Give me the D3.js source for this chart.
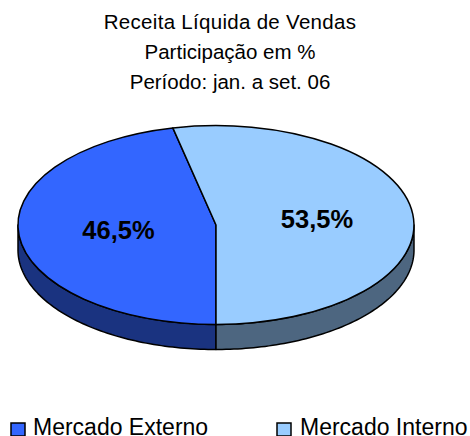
<!DOCTYPE html>
<html>
<head>
<meta charset="utf-8">
<script src="https://cdn.jsdelivr.net/npm/d3@7"></script>
<style>
  html, body { margin: 0; padding: 0; background: #fff; }
  svg { display: block; }
  text { font-family: "Liberation Sans", Arial, sans-serif; fill: #000; }
</style>
</head>
<body>
<script>
const titleLines = ["Receita Líquida de Vendas", "Participação em %", "Período: jan. a set. 06"];
const categories = ["Mercado Externo", "Mercado Interno"];
const values = [46.5, 53.5];
const valueLabels = ["46,5%", "53,5%"];
const topColors = ["#3366ff", "#99ccff"];
const sideColors = ["#1a3380", "#4d6680"];

const w = 470;
const h = 436;
const cx = 216;
const cy = 225;
const rx = 198;
const ry = 99.5;
const depth = 25;

const svg = d3.select("body").append("svg").attr("width", w).attr("height", h);

// Title
const titleY = [29, 59, 89];
const titleSpacing = [0.3, 0, 0];
svg.selectAll(".title")
  .data(titleLines)
  .enter()
  .append("text")
  .attr("class", "title")
  .attr("x", 230)
  .attr("y", (d, i) => titleY[i])
  .attr("text-anchor", "middle")
  .attr("font-size", 20.5)
  .attr("letter-spacing", (d, i) => titleSpacing[i])
  .text((d) => d);

// Pie starts at the bottom and goes clockwise
const pie = d3.pie().sort(null).startAngle(Math.PI).endAngle(3 * Math.PI);
const slices = pie(values);

const px = (a) => cx + rx * Math.sin(a);
const py = (a) => cy - ry * Math.cos(a);

// Side wall, only the front half of the ellipse is visible
const wallLine = d3.line();
function wallPath(d) {
  const frontStart = Math.PI / 2;
  const frontEnd = 3 * Math.PI / 2;
  const pieces = [];
  [0, 2 * Math.PI].forEach((shift) => {
    const a0 = Math.max(d.startAngle, frontStart + shift);
    const a1 = Math.min(d.endAngle, frontEnd + shift);
    if (a1 <= a0) return;
    const angles = d3.range(a0, a1, 0.02).concat([a1]);
    const top = angles.map((a) => [px(a), py(a)]);
    const bottom = angles.slice().reverse().map((a) => [px(a), py(a) + depth]);
    pieces.push(wallLine(top.concat(bottom)) + "Z");
  });
  return pieces.join("");
}

svg.selectAll(".wall")
  .data(slices)
  .enter()
  .append("path")
  .attr("class", "wall")
  .attr("d", wallPath)
  .attr("fill", (d, i) => sideColors[i])
  .attr("stroke", "#000")
  .attr("stroke-width", 1.5)
  .attr("stroke-linejoin", "round");

// Top face, unit arc squashed into an ellipse
const arc = d3.arc().innerRadius(0).outerRadius(1);

svg.selectAll(".slice")
  .data(slices)
  .enter()
  .append("path")
  .attr("class", "slice")
  .attr("d", arc)
  .attr("transform", `translate(${cx},${cy}) scale(${rx},${ry})`)
  .attr("vector-effect", "non-scaling-stroke")
  .attr("fill", (d, i) => topColors[i])
  .attr("stroke", "#000")
  .attr("stroke-width", 1.5)
  .attr("stroke-linejoin", "round");

// Value labels
const labelX = [118.5, 317];
const labelY = [239, 228];
svg.selectAll(".value")
  .data(valueLabels)
  .enter()
  .append("text")
  .attr("class", "value")
  .attr("x", (d, i) => labelX[i])
  .attr("y", (d, i) => labelY[i])
  .attr("text-anchor", "middle")
  .attr("font-size", 25.5)
  .attr("font-weight", "bold")
  .text((d) => d);

// Legend
const legendX = [11, 277];
const legend = svg.selectAll(".legend")
  .data(categories)
  .enter()
  .append("g")
  .attr("class", "legend")
  .attr("transform", (d, i) => `translate(${legendX[i]},0)`);

legend.append("rect")
  .attr("x", 0)
  .attr("y", 423)
  .attr("width", 14)
  .attr("height", 13)
  .attr("fill", (d, i) => topColors[i])
  .attr("stroke", "#000")
  .attr("stroke-width", 1.5);

legend.append("text")
  .attr("x", (d, i) => (i === 0 ? 22 : 23))
  .attr("y", 435)
  .attr("font-size", 23)
  .text((d) => d);
</script>
</body>
</html>
